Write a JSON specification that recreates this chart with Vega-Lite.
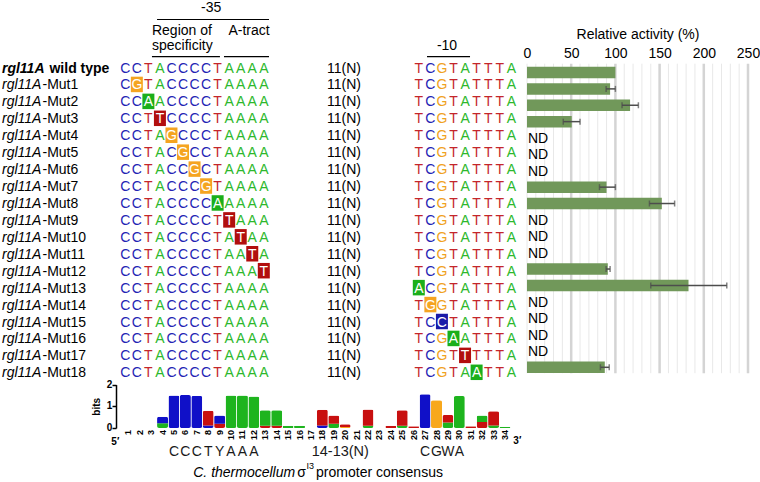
{
 "$schema": "https://vega.github.io/schema/vega-lite/v6.json",
 "width": 760, "height": 482, "autosize": {"type": "none"}, "padding": 0,
 "background": "white",
 "config": {"view": {"stroke": null}, "text": {"font": "Liberation Sans", "fontSize": 14, "color": "black"}, "axis": {"labelFont": "Liberation Sans", "titleFont": "Liberation Sans"}},
 "datasets": {
  "constructs": [
   {"row":0,"gene":"rgl11A","suffix":"wild type","s35":["C","C","T","A","C","C","C","C","T","A","A","A","A"],"m35":0,"s10":["T","C","G","T","A","T","T","T","A"],"m10":0,"act":100,"lo":null,"hi":null},
   {"row":1,"gene":"rgl11A","suffix":"-Mut1","s35":["C","G","T","A","C","C","C","C","T","A","A","A","A"],"m35":2,"s10":["T","C","G","T","A","T","T","T","A"],"m10":0,"act":94,"lo":89.5,"hi":100},
   {"row":2,"gene":"rgl11A","suffix":"-Mut2","s35":["C","C","A","A","C","C","C","C","T","A","A","A","A"],"m35":3,"s10":["T","C","G","T","A","T","T","T","A"],"m10":0,"act":116.6,"lo":107.5,"hi":126},
   {"row":3,"gene":"rgl11A","suffix":"-Mut3","s35":["C","C","T","T","C","C","C","C","T","A","A","A","A"],"m35":4,"s10":["T","C","G","T","A","T","T","T","A"],"m10":0,"act":50.6,"lo":41,"hi":60},
   {"row":4,"gene":"rgl11A","suffix":"-Mut4","s35":["C","C","T","A","G","C","C","C","T","A","A","A","A"],"m35":5,"s10":["T","C","G","T","A","T","T","T","A"],"m10":0,"act":null,"lo":null,"hi":null},
   {"row":5,"gene":"rgl11A","suffix":"-Mut5","s35":["C","C","T","A","C","G","C","C","T","A","A","A","A"],"m35":6,"s10":["T","C","G","T","A","T","T","T","A"],"m10":0,"act":null,"lo":null,"hi":null},
   {"row":6,"gene":"rgl11A","suffix":"-Mut6","s35":["C","C","T","A","C","C","G","C","T","A","A","A","A"],"m35":7,"s10":["T","C","G","T","A","T","T","T","A"],"m10":0,"act":null,"lo":null,"hi":null},
   {"row":7,"gene":"rgl11A","suffix":"-Mut7","s35":["C","C","T","A","C","C","C","G","T","A","A","A","A"],"m35":8,"s10":["T","C","G","T","A","T","T","T","A"],"m10":0,"act":90,"lo":82,"hi":100},
   {"row":8,"gene":"rgl11A","suffix":"-Mut8","s35":["C","C","T","A","C","C","C","C","A","A","A","A","A"],"m35":9,"s10":["T","C","G","T","A","T","T","T","A"],"m10":0,"act":152.5,"lo":138.5,"hi":167},
   {"row":9,"gene":"rgl11A","suffix":"-Mut9","s35":["C","C","T","A","C","C","C","C","T","T","A","A","A"],"m35":10,"s10":["T","C","G","T","A","T","T","T","A"],"m10":0,"act":null,"lo":null,"hi":null},
   {"row":10,"gene":"rgl11A","suffix":"-Mut10","s35":["C","C","T","A","C","C","C","C","T","A","T","A","A"],"m35":11,"s10":["T","C","G","T","A","T","T","T","A"],"m10":0,"act":null,"lo":null,"hi":null},
   {"row":11,"gene":"rgl11A","suffix":"-Mut11","s35":["C","C","T","A","C","C","C","C","T","A","A","T","A"],"m35":12,"s10":["T","C","G","T","A","T","T","T","A"],"m10":0,"act":null,"lo":null,"hi":null},
   {"row":12,"gene":"rgl11A","suffix":"-Mut12","s35":["C","C","T","A","C","C","C","C","T","A","A","A","T"],"m35":13,"s10":["T","C","G","T","A","T","T","T","A"],"m10":0,"act":91.4,"lo":89.5,"hi":94},
   {"row":13,"gene":"rgl11A","suffix":"-Mut13","s35":["C","C","T","A","C","C","C","C","T","A","A","A","A"],"m35":0,"s10":["A","C","G","T","A","T","T","T","A"],"m10":1,"act":182.7,"lo":140,"hi":226},
   {"row":14,"gene":"rgl11A","suffix":"-Mut14","s35":["C","C","T","A","C","C","C","C","T","A","A","A","A"],"m35":0,"s10":["T","G","G","T","A","T","T","T","A"],"m10":2,"act":null,"lo":null,"hi":null},
   {"row":15,"gene":"rgl11A","suffix":"-Mut15","s35":["C","C","T","A","C","C","C","C","T","A","A","A","A"],"m35":0,"s10":["T","C","C","T","A","T","T","T","A"],"m10":3,"act":null,"lo":null,"hi":null},
   {"row":16,"gene":"rgl11A","suffix":"-Mut16","s35":["C","C","T","A","C","C","C","C","T","A","A","A","A"],"m35":0,"s10":["T","C","G","A","A","T","T","T","A"],"m10":4,"act":null,"lo":null,"hi":null},
   {"row":17,"gene":"rgl11A","suffix":"-Mut17","s35":["C","C","T","A","C","C","C","C","T","A","A","A","A"],"m35":0,"s10":["T","C","G","T","T","T","T","T","A"],"m10":5,"act":null,"lo":null,"hi":null},
   {"row":18,"gene":"rgl11A","suffix":"-Mut18","s35":["C","C","T","A","C","C","C","C","T","A","A","A","A"],"m35":0,"s10":["T","C","G","T","A","A","T","T","A"],"m10":6,"act":88,"lo":83,"hi":93}
  ],
  "grid": [{"v":0},{"v":10},{"v":20},{"v":30},{"v":40},{"v":50},{"v":60},{"v":70},{"v":80},{"v":90},{"v":100},{"v":110},{"v":120},{"v":130},{"v":140},{"v":150},{"v":160},{"v":170},{"v":180},{"v":190},{"v":200},{"v":210},{"v":220},{"v":230},{"v":240},{"v":250}],
  "logo": [
   {"p":4,"k":1,"b":"A","bits":0.22},{"p":4,"k":2,"b":"C","bits":0.3},
   {"p":5,"k":1,"b":"C","bits":1.5},
   {"p":6,"k":1,"b":"C","bits":1.52},
   {"p":7,"k":1,"b":"C","bits":1.48},
   {"p":8,"k":1,"b":"C","bits":0.12},{"p":8,"k":2,"b":"T","bits":0.68},
   {"p":9,"k":1,"b":"T","bits":0.2},{"p":9,"k":2,"b":"C","bits":0.38},
   {"p":10,"k":1,"b":"A","bits":1.5},
   {"p":11,"k":1,"b":"A","bits":1.5},
   {"p":12,"k":1,"b":"A","bits":1.45},
   {"p":13,"k":1,"b":"T","bits":0.1},{"p":13,"k":2,"b":"A","bits":0.72},
   {"p":14,"k":1,"b":"T","bits":0.1},{"p":14,"k":2,"b":"A","bits":0.72},
   {"p":15,"k":1,"b":"A","bits":0.1},
   {"p":16,"k":1,"b":"A","bits":0.1},
   {"p":18,"k":1,"b":"C","bits":0.12},{"p":18,"k":2,"b":"T","bits":0.72},
   {"p":19,"k":1,"b":"A","bits":0.2},{"p":19,"k":2,"b":"T","bits":0.38},
   {"p":20,"k":1,"b":"G","bits":0.05},{"p":20,"k":2,"b":"T","bits":0.12},
   {"p":22,"k":1,"b":"A","bits":0.1},{"p":22,"k":2,"b":"T","bits":0.75},
   {"p":24,"k":1,"b":"T","bits":0.1},
   {"p":25,"k":1,"b":"A","bits":0.1},{"p":25,"k":2,"b":"T","bits":0.72},
   {"p":26,"k":1,"b":"T","bits":0.08},
   {"p":27,"k":1,"b":"C","bits":1.55},
   {"p":28,"k":1,"b":"G","bits":1.28},
   {"p":29,"k":1,"b":"A","bits":0.25},{"p":29,"k":2,"b":"T","bits":0.35},
   {"p":30,"k":1,"b":"A","bits":1.47},
   {"p":31,"k":1,"b":"T","bits":0.08},
   {"p":32,"k":1,"b":"T","bits":0.28},{"p":32,"k":2,"b":"A","bits":0.3},
   {"p":33,"k":1,"b":"A","bits":0.12},{"p":33,"k":2,"b":"T","bits":0.65},
   {"p":34,"k":1,"b":"A","bits":0.06}
  ],
  "nums": [{"p":1},{"p":2},{"p":3},{"p":4},{"p":5},{"p":6},{"p":7},{"p":8},{"p":9},{"p":10},{"p":11},{"p":12},{"p":13},{"p":14},{"p":15},{"p":16},{"p":17},{"p":18},{"p":19},{"p":20},{"p":21},{"p":22},{"p":23},{"p":24},{"p":25},{"p":26},{"p":27},{"p":28},{"p":29},{"p":30},{"p":31},{"p":32},{"p":33},{"p":34}],
  "bitsTicks": [{"b":0},{"b":1},{"b":2}],
  "cons": [{"p":5,"t":"C"},{"p":6,"t":"C"},{"p":7,"t":"C"},{"p":8,"t":"T"},{"p":9,"t":"Y"},{"p":10,"t":"A"},{"p":11,"t":"A"},{"p":12,"t":"A"},{"p":27,"t":"C"},{"p":28,"t":"G"},{"p":29,"t":"W"},{"p":30,"t":"A"}]
 },
 "layer": [
  {
   "data": {"name": "constructs"},
   "layer": [
    {"transform": [{"filter": "datum.row == 0"}],
     "mark": {"type": "text", "align": "left", "baseline": "middle", "fontSize": 14, "fontStyle": "italic", "fontWeight": "bold"},
     "encoding": {"x": {"datum": -9.685, "type": "quantitative", "scale": {"domain": [1,13], "range": [125.3,263.8], "nice": false, "zero": false}, "axis": null},
      "y": {"field": "row", "type": "quantitative", "scale": {"domain": [0,18], "range": [68.5,373.3], "nice": false, "zero": false}, "axis": null},
      "text": {"field": "gene"}}},
    {"transform": [{"filter": "datum.row == 0"}],
     "mark": {"type": "text", "align": "left", "baseline": "middle", "fontSize": 14, "fontWeight": "bold", "dx": 47.5},
     "encoding": {"x": {"datum": -9.685, "type": "quantitative"}, "y": {"field": "row", "type": "quantitative"}, "text": {"field": "suffix"}}},
    {"transform": [{"filter": "datum.row > 0"}],
     "mark": {"type": "text", "align": "left", "baseline": "middle", "fontSize": 14, "fontStyle": "italic"},
     "encoding": {"x": {"datum": -9.685, "type": "quantitative"}, "y": {"field": "row", "type": "quantitative"}, "text": {"field": "gene"}}},
    {"transform": [{"filter": "datum.row > 0"}],
     "mark": {"type": "text", "align": "left", "baseline": "middle", "fontSize": 14, "dx": 40.5},
     "encoding": {"x": {"datum": -9.685, "type": "quantitative"}, "y": {"field": "row", "type": "quantitative"}, "text": {"field": "suffix"}}},
    {"transform": [{"flatten": ["s35"], "as": ["base"]}, {"window": [{"op": "row_number", "as": "pos"}], "groupby": ["row"]}, {"filter": "datum.pos == datum.m35"}],
     "mark": {"type": "rect", "width": 12, "height": 15.5, "yOffset": -1},
     "encoding": {"x": {"field": "pos", "type": "quantitative"}, "y": {"field": "row", "type": "quantitative"},
      "fill": {"field": "base", "type": "nominal", "scale": {"domain": ["A","C","G","T"], "range": ["#1AAF1A","#1A1AA8","#F5A421","#B20E0E"]}, "legend": null}}},
    {"transform": [{"flatten": ["s35"], "as": ["base"]}, {"window": [{"op": "row_number", "as": "pos"}], "groupby": ["row"]}],
     "mark": {"type": "text", "align": "center", "baseline": "middle", "fontSize": 14},
     "encoding": {"x": {"field": "pos", "type": "quantitative"}, "y": {"field": "row", "type": "quantitative"}, "text": {"field": "base"},
      "color": {"condition": {"test": "datum.pos == datum.m35", "value": "white"}, "field": "base", "type": "nominal", "scale": {"domain": ["A","C","G","T"], "range": ["#2DB82D","#2424B4","#F0A21E","#C4262B"]}, "legend": null}}},
    {"mark": {"type": "text", "align": "center", "baseline": "middle", "fontSize": 14},
     "encoding": {"x": {"datum": 19.95, "type": "quantitative"}, "y": {"field": "row", "type": "quantitative"}, "text": {"value": "11(N)"}}},
    {"data": {"values": [{}]}, "mark": {"type": "text", "align": "center", "baseline": "middle", "fontSize": 14},
     "encoding": {"x": {"datum": 8.44, "type": "quantitative"}, "y": {"datum": -3.556, "type": "quantitative"}, "text": {"value": "-35"}}},
    {"data": {"values": [{}]}, "mark": {"type": "rule", "color": "black", "strokeWidth": 1.2},
     "encoding": {"x": {"datum": 3.75, "type": "quantitative"}, "x2": {"datum": 13.45}, "y": {"datum": -2.894, "type": "quantitative"}}},
    {"data": {"values": [{}]}, "mark": {"type": "text", "align": "left", "baseline": "middle", "fontSize": 14},
     "encoding": {"x": {"datum": 3.31, "type": "quantitative"}, "y": {"datum": -2.227, "type": "quantitative"}, "text": {"value": "Region of"}}},
    {"data": {"values": [{}]}, "mark": {"type": "text", "align": "left", "baseline": "middle", "fontSize": 14},
     "encoding": {"x": {"datum": 3.31, "type": "quantitative"}, "y": {"datum": -1.323, "type": "quantitative"}, "text": {"value": "specificity"}}},
    {"data": {"values": [{}]}, "mark": {"type": "text", "align": "center", "baseline": "middle", "fontSize": 14},
     "encoding": {"x": {"datum": 11.72, "type": "quantitative"}, "y": {"datum": -2.227, "type": "quantitative"}, "text": {"value": "A-tract"}}},
    {"data": {"values": [{}]}, "mark": {"type": "rule", "color": "black", "strokeWidth": 1.2},
     "encoding": {"x": {"datum": 3.31, "type": "quantitative"}, "x2": {"datum": 9.2}, "y": {"datum": -0.697, "type": "quantitative"}}},
    {"data": {"values": [{}]}, "mark": {"type": "rule", "color": "black", "strokeWidth": 1.2},
     "encoding": {"x": {"datum": 9.55, "type": "quantitative"}, "x2": {"datum": 13.45}, "y": {"datum": -0.697, "type": "quantitative"}}}
   ]
  },
  {
   "data": {"name": "constructs"},
   "layer": [
    {"transform": [{"flatten": ["s10"], "as": ["base"]}, {"window": [{"op": "row_number", "as": "pos"}], "groupby": ["row"]}, {"filter": "datum.pos == datum.m10"}],
     "mark": {"type": "rect", "width": 12, "height": 15.5, "yOffset": -1},
     "encoding": {"x": {"field": "pos", "type": "quantitative", "scale": {"domain": [1,9], "range": [418.8,511.3], "nice": false, "zero": false}, "axis": null},
      "y": {"field": "row", "type": "quantitative", "scale": {"domain": [0,18], "range": [68.5,373.3], "nice": false, "zero": false}, "axis": null},
      "fill": {"field": "base", "type": "nominal", "scale": {"domain": ["A","C","G","T"], "range": ["#1AAF1A","#1A1AA8","#F5A421","#B20E0E"]}, "legend": null}}},
    {"transform": [{"flatten": ["s10"], "as": ["base"]}, {"window": [{"op": "row_number", "as": "pos"}], "groupby": ["row"]}],
     "mark": {"type": "text", "align": "center", "baseline": "middle", "fontSize": 14},
     "encoding": {"x": {"field": "pos", "type": "quantitative"}, "y": {"field": "row", "type": "quantitative"}, "text": {"field": "base"},
      "color": {"condition": {"test": "datum.pos == datum.m10", "value": "white"}, "field": "base", "type": "nominal", "scale": {"domain": ["A","C","G","T"], "range": ["#2DB82D","#2424B4","#F0A21E","#C4262B"]}, "legend": null}}},
    {"data": {"values": [{}]}, "mark": {"type": "text", "align": "center", "baseline": "middle", "fontSize": 14},
     "encoding": {"x": {"datum": 3.44, "type": "quantitative"}, "y": {"datum": -1.34, "type": "quantitative"}, "text": {"value": "-10"}}},
    {"data": {"values": [{}]}, "mark": {"type": "rule", "color": "black", "strokeWidth": 1.2},
     "encoding": {"x": {"datum": 1.71, "type": "quantitative"}, "x2": {"datum": 5.43}, "y": {"datum": -0.697, "type": "quantitative"}}}
   ]
  },
  {
   "data": {"name": "constructs"},
   "layer": [
    {"data": {"name": "grid"}, "transform": [{"filter": "datum.v % 50 != 0 || datum.v == 0"}],
     "mark": {"type": "rule", "color": "#e8e8e8", "strokeWidth": 1},
     "encoding": {"x": {"field": "v", "type": "quantitative", "scale": {"domain": [0,250], "range": [527,748], "nice": false},
       "axis": {"orient": "top", "offset": -60, "values": [0,50,100,150,200,250], "domain": false, "ticks": false, "grid": false, "labelFontSize": 14, "labelPadding": 0, "labelColor": "black", "labelFlush": false, "labelOverlap": false, "title": "Relative activity (%)", "titleFontSize": 14, "titleFontWeight": "normal", "titleColor": "black", "titlePadding": 5}},
      "y": {"datum": -0.6, "type": "quantitative", "scale": {"domain": [0,18], "range": [68.5,373.3], "nice": false, "zero": false}, "axis": null},
      "y2": {"datum": 18.3}}},
    {"data": {"name": "grid"}, "transform": [{"filter": "datum.v % 50 == 0 && datum.v > 0"}],
     "mark": {"type": "rule", "color": "#d4d4d4", "strokeWidth": 2.5},
     "encoding": {"x": {"field": "v", "type": "quantitative"}, "y": {"datum": -0.6, "type": "quantitative"}, "y2": {"datum": 18.3}}},
    {"transform": [{"filter": "datum.act != null"}],
     "mark": {"type": "bar", "orient": "horizontal", "size": 11.5, "yOffset": -1, "color": "#71985A"},
     "encoding": {"x": {"field": "act", "type": "quantitative"}, "y": {"field": "row", "type": "quantitative"}}},
    {"transform": [{"filter": "datum.lo != null"}],
     "mark": {"type": "rule", "color": "#4d4d4d", "strokeWidth": 1.5, "yOffset": -1},
     "encoding": {"x": {"field": "lo", "type": "quantitative"}, "x2": {"field": "hi"}, "y": {"field": "row", "type": "quantitative"}}},
    {"transform": [{"filter": "datum.lo != null"}],
     "mark": {"type": "tick", "orient": "vertical", "size": 6, "thickness": 1.5, "color": "#4d4d4d", "yOffset": -1},
     "encoding": {"x": {"field": "lo", "type": "quantitative"}, "y": {"field": "row", "type": "quantitative"}}},
    {"transform": [{"filter": "datum.lo != null"}],
     "mark": {"type": "tick", "orient": "vertical", "size": 6, "thickness": 1.5, "color": "#4d4d4d", "yOffset": -1},
     "encoding": {"x": {"field": "hi", "type": "quantitative"}, "y": {"field": "row", "type": "quantitative"}}},
    {"transform": [{"filter": "datum.act == null"}],
     "mark": {"type": "text", "align": "left", "baseline": "middle", "fontSize": 14, "dx": 1},
     "encoding": {"x": {"datum": 0, "type": "quantitative"}, "y": {"field": "row", "type": "quantitative"}, "text": {"value": "ND"}}}
   ]
  },
  {
   "data": {"name": "logo"},
   "layer": [
    {"mark": {"type": "bar", "orient": "vertical", "size": 11, "cornerRadius": 2},
     "encoding": {"x": {"field": "p", "type": "quantitative", "scale": {"domain": [1,34], "range": [123.3,510], "nice": false, "zero": false}, "axis": null},
      "y": {"field": "bits", "type": "quantitative", "stack": "zero", "scale": {"domain": [0,2], "range": [428,384.6], "nice": false, "zero": false},
       "axis": {"orient": "left", "offset": -116, "values": [0,1,2], "domain": true, "domainColor": "black", "domainWidth": 1.5, "ticks": true, "tickColor": "black", "tickWidth": 1.5, "tickSize": 4, "grid": false, "labels": false, "title": "bits", "titleFontSize": 10, "titleFontWeight": "bold", "titleColor": "black", "titlePadding": 10}},
      "fill": {"field": "b", "type": "nominal", "scale": {"domain": ["A","C","G","T"], "range": ["#1EB41E","#1010C8","#F8A81C","#C81010"]}, "legend": null},
      "order": {"field": "k", "type": "quantitative"}}},
    {"data": {"name": "bitsTicks"}, "mark": {"type": "text", "align": "right", "baseline": "middle", "fontSize": 10, "fontWeight": "bold"},
     "encoding": {"x": {"datum": -0.4, "type": "quantitative"}, "y": {"field": "b", "type": "quantitative"}, "text": {"field": "b"}}},
    {"data": {"name": "nums"}, "mark": {"type": "text", "align": "right", "baseline": "middle", "angle": 270, "fontSize": 9, "fontWeight": "bold"},
     "encoding": {"x": {"field": "p", "type": "quantitative"}, "y": {"datum": -0.092, "type": "quantitative"}, "text": {"field": "p"}}},
    {"data": {"values": [{}]}, "mark": {"type": "text", "align": "center", "baseline": "middle", "fontSize": 10, "fontWeight": "bold"},
     "encoding": {"x": {"datum": -0.135, "type": "quantitative"}, "y": {"datum": -0.668, "type": "quantitative"}, "text": {"value": "5′"}}},
    {"data": {"values": [{}]}, "mark": {"type": "text", "align": "center", "baseline": "middle", "fontSize": 10, "fontWeight": "bold"},
     "encoding": {"x": {"datum": 35.08, "type": "quantitative"}, "y": {"datum": -0.6, "type": "quantitative"}, "text": {"value": "3′"}}},
    {"data": {"name": "cons"}, "mark": {"type": "text", "align": "center", "baseline": "middle", "fontSize": 14, "color": "#1a1a1a"},
     "encoding": {"x": {"field": "p", "type": "quantitative"}, "y": {"datum": -1.129, "type": "quantitative"}, "text": {"field": "t"}}},
    {"data": {"values": [{}]}, "mark": {"type": "text", "align": "center", "baseline": "middle", "fontSize": 14.5, "color": "#1a1a1a"},
     "encoding": {"x": {"datum": 19.57, "type": "quantitative"}, "y": {"datum": -1.129, "type": "quantitative"}, "text": {"value": "14-13(N)"}}},
    {"data": {"values": [{}]}, "mark": {"type": "text", "align": "left", "baseline": "middle", "fontSize": 14, "fontStyle": "italic"},
     "encoding": {"x": {"datum": 6.69, "type": "quantitative"}, "y": {"datum": -2.074, "type": "quantitative"}, "text": {"value": "C. thermocellum"}}},
    {"data": {"values": [{}]}, "mark": {"type": "text", "align": "left", "baseline": "middle", "fontSize": 14},
     "encoding": {"x": {"datum": 15.8, "type": "quantitative"}, "y": {"datum": -2.074, "type": "quantitative"}, "text": {"value": "σ"}}},
    {"data": {"values": [{}]}, "mark": {"type": "text", "align": "left", "baseline": "middle", "fontSize": 9},
     "encoding": {"x": {"datum": 16.62, "type": "quantitative"}, "y": {"datum": -1.75, "type": "quantitative"}, "text": {"value": "I3"}}},
    {"data": {"values": [{}]}, "mark": {"type": "text", "align": "left", "baseline": "middle", "fontSize": 14},
     "encoding": {"x": {"datum": 17.45, "type": "quantitative"}, "y": {"datum": -2.074, "type": "quantitative"}, "text": {"value": "promoter consensus"}}}
   ]
  }
 ],
 "resolve": {"scale": {"x": "independent", "y": "independent", "color": "independent", "fill": "independent"}}
}
